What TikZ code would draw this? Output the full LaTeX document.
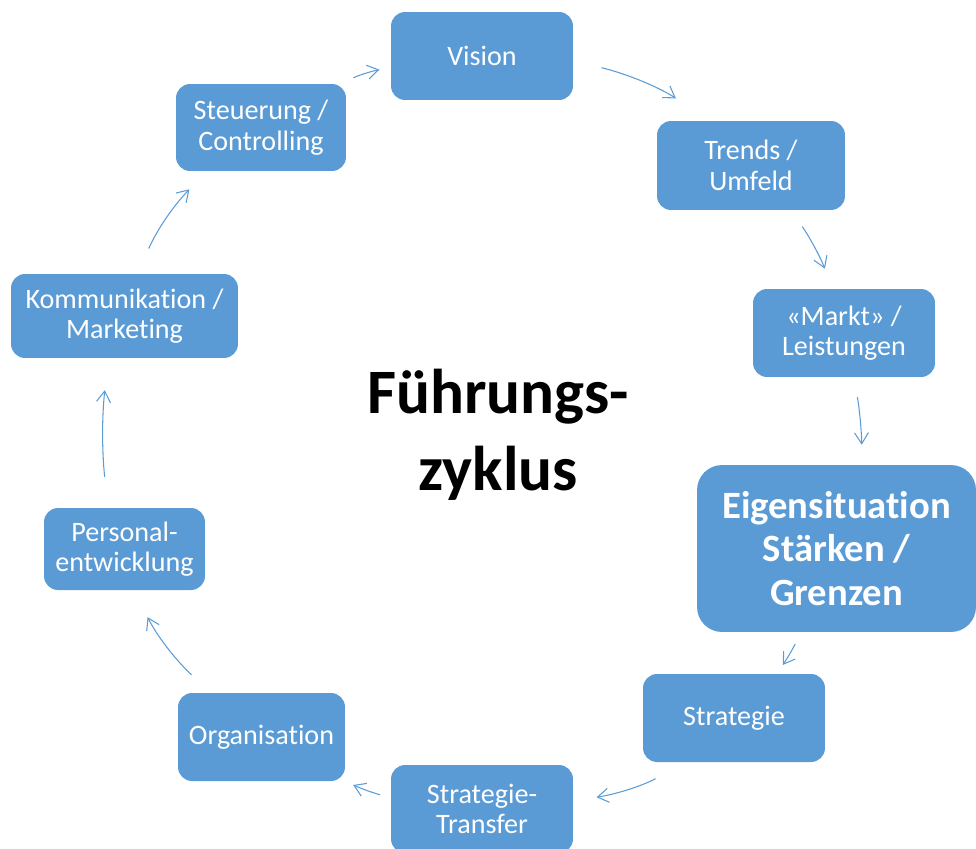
\documentclass[tikz,border=0pt]{standalone}
\usepackage{fontspec}
\setmainfont[Ligatures=NoCommon]{Carlito}
\usepackage{tikz}
\usetikzlibrary{arrows.meta}
\usetikzlibrary{positioning}
\definecolor{boxblue}{HTML}{5B9BD5}
\tikzset{
    font={\fontsize{16pt}{17.3pt}\selectfont},
    stage/.style={
           rectangle,
           rounded corners=0.28cm,
           draw=none,
           fill=boxblue,
           text=white,
           minimum width=3.64cm,
           minimum height=1.76cm,
           inner sep=2pt,
           align=center,
           },
    cycle/.style={
           draw=boxblue,
           line width=0.6pt,
           -{Straight Barb[length=2.2mm,width=2.8mm]},
           bend left=10,
           },
}

\begin{document}
\begin{tikzpicture}[x=0.02cm,y=-0.02cm]
\useasboundingbox (0,0) rectangle (976,848);

% Title in the middle
\node[align=center,font={\fontsize{36pt}{44pt}\selectfont\bfseries}] (TITLE) at (498,435) {Führungs-\\zyklus};

% Boxes of the cycle, clockwise from the top
\node[stage] (VISION) at (482,56) {Vision};
\node[stage, minimum width=3.76cm, minimum height=1.78cm] (TRENDS) at (751,165.5) {Trends /\\Umfeld};
\node[stage] (MARKT) at (844,333) {«Markt» /\\Leistungen};
\node[stage, minimum width=5.58cm, minimum height=3.34cm, rounded corners=0.5cm,
      font={\fontsize{22pt}{24.6pt}\selectfont\bfseries}] (EIGEN) at (836.5,548.5) {Eigensituation\\Stärken /\\Grenzen};
\node[stage] (STRATEGIE) at (734,718) {Strategie};
\node[stage] (TRANSFER) at (482,809) {Strategie-\\Transfer};
\node[stage, minimum width=3.34cm] (ORGA) at (261.5,737) {Organisation};
\node[stage, minimum width=3.22cm, minimum height=1.64cm] (PERSONAL) at (124.5,549) {Personal-\\entwicklung};
\node[stage, minimum width=4.54cm, minimum height=1.68cm] (KOMMUNIKATION) at (124.5,316) {Kommunikation /\\Marketing};
\node[stage, minimum width=3.4cm, minimum height=1.74cm] (STEUERUNG) at (261,127.5) {Steuerung /\\Controlling};

% Arrows between the boxes
\path
(STEUERUNG.29)      edge[cycle, bend left=6, shorten <=0.29cm, shorten >=0.23cm]  (VISION.187)
(VISION.-3)         edge[cycle, shorten <=0.58cm, shorten >=0.8cm]                (TRENDS.133)
(TRENDS.-48)        edge[cycle, bend left=6, shorten <=0.39cm, shorten >=0.43cm]  (MARKT.104)
(MARKT.-77)         edge[cycle, bend left=4, shorten <=0.4cm, shorten >=0.4cm]    (EIGEN.73)
(EIGEN.247)         edge[cycle, bend left=4, shorten <=0.26cm, shorten >=0.21cm]  (STRATEGIE.46)
(STRATEGIE.222)     edge[cycle, shorten <=0.67cm, shorten >=0.47cm]               (TRANSFER.5)
(TRANSFER.173)      edge[cycle, bend left=4, shorten <=0.22cm, shorten >=0.18cm]  (ORGA.-28)
(ORGA.139)          edge[cycle, shorten <=0.52cm, shorten >=0.6cm]                (PERSONAL.-77)
(PERSONAL.112)      edge[cycle, bend left=6, shorten <=0.62cm, shorten >=0.64cm]  (KOMMUNIKATION.249)
(KOMMUNIKATION.73)  edge[cycle, shorten <=0.55cm, shorten >=0.5cm]                (STEUERUNG.219);

\end{tikzpicture}
\end{document}
